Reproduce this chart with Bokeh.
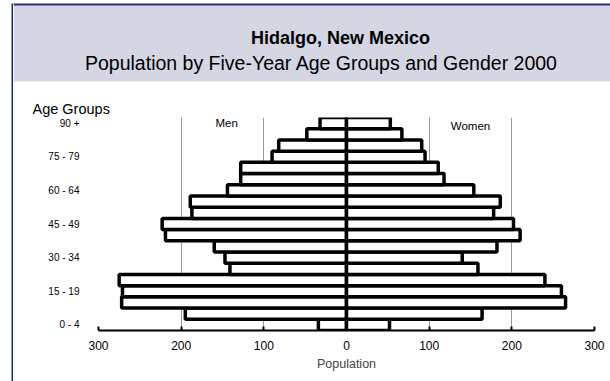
from bokeh.plotting import figure
from bokeh.layouts import row, column
from bokeh.models import Range1d, FixedTicker, Label, ColumnDataSource
from bokeh.core.properties import value
from bokeh.embed import file_html
from bokeh.resources import INLINE

# ---- data ----
age_groups = ["0 - 4", "5 - 9", "10 - 14", "15 - 19", "20 - 24", "25 - 29", "30 - 34",
              "35 - 39", "40 - 44", "45 - 49", "50 - 54", "55 - 59", "60 - 64", "65 - 69",
              "70 - 74", "75 - 79", "80 - 84", "85 - 89", "90 +"]
men = [34, 195, 272, 271, 275, 141, 147, 160, 219, 223, 187, 189, 144, 128, 128, 90, 82, 48, 32]
women = [52, 164, 265, 260, 240, 159, 140, 182, 210, 202, 178, 186, 154, 118, 111, 95, 91, 67, 53]
shown_age_labels = ["0 - 4", "15 - 19", "30 - 34", "45 - 49", "60 - 64", "75 - 79", "90 +"]
x_ticks = [-300, -200, -100, 0, 100, 200, 300]
x_tick_labels = ["300", "200", "100", "0", "100", "200", "300"]

title_text = "Hidalgo, New Mexico"
subtitle_text = "Population by Five-Year Age Groups and Gender 2000"
y_title = "Age Groups"

FONT = "Liberation Sans"
NAVY = "#1F2A7A"
PANEL = "#D4D6E4"

W_TOTAL, H_TOTAL = 610, 381
STRIP_W = 13
HEAD_H = 117
MAIN_W = W_TOTAL - STRIP_W
CHART_H = H_TOTAL - HEAD_H


def no_align(f):
    try:
        f.frame_align = False
    except Exception:
        pass


def blank(w, h):
    f = figure(width=w, height=h, output_backend="svg", toolbar_location=None,
               x_range=Range1d(0, w), y_range=Range1d(h, 0),
               x_axis_location=None, y_axis_location=None,
               min_border=0, min_border_left=0, min_border_right=0,
               min_border_top=0, min_border_bottom=0)
    f.grid.visible = False
    f.outline_line_color = None
    f.background_fill_color = "white"
    f.border_fill_color = "white"
    no_align(f)
    return f


# ---- left strip with the navy frame line ----
strip = blank(STRIP_W, H_TOTAL)
strip.quad(left=[11], right=[13], top=[3], bottom=[H_TOTAL], fill_color=NAVY, line_color=None)

# ---- header ----
head = blank(MAIN_W, HEAD_H)
head.quad(left=[0], right=[MAIN_W], top=[5], bottom=[81], fill_color=PANEL, line_color=None)
head.quad(left=[0], right=[MAIN_W], top=[3], bottom=[5], fill_color=NAVY, line_color=None)
head.text(x=[327], y=[37], text=[title_text], text_align="center", text_baseline="alphabetic",
          text_font=value(FONT), text_font_size="18px", text_font_style="bold", text_color="black")
head.text(x=[308], y=[62], text=[subtitle_text], text_align="center", text_baseline="alphabetic",
          text_font=value(FONT), text_font_size="19.5px", text_color="black")
head.text(x=[19], y=[108], text=[y_title], text_align="left", text_baseline="alphabetic",
          text_font=value(FONT), text_font_size="14.5px", text_color="black")

# ---- chart ----
idx = list(range(len(age_groups)))
src = ColumnDataSource(dict(
    y=idx,
    men_left=[-v for v in men],
    women_right=women,
))

p = figure(width=MAIN_W, height=CHART_H, output_backend="svg", toolbar_location=None,
           x_range=Range1d(-300, 300), y_range=Range1d(-0.5, len(age_groups) - 0.5),
           min_border_left=85, min_border_right=16, min_border_top=0, min_border_bottom=51)
p.background_fill_color = "white"
p.border_fill_color = "white"
p.outline_line_color = None
no_align(p)

p.hbar(y="y", left="men_left", right=0, height=1, source=src,
       fill_color="white", line_color="black", line_width=3.5)
p.hbar(y="y", left=0, right="women_right", height=1, source=src,
       fill_color="white", line_color="black", line_width=3.5)

xa = p.xaxis[0]
xa.ticker = FixedTicker(ticks=x_ticks)
xa.major_label_overrides = {t: l for t, l in zip(x_ticks, x_tick_labels)}
xa.minor_tick_line_color = None
xa.major_tick_in = 4
xa.major_tick_out = 0
xa.major_tick_line_width = 2
xa.axis_line_width = 2
xa.axis_line_color = "black"
xa.major_label_standoff = 10
xa.major_label_text_font = FONT
xa.major_label_text_font_size = "12px"
xa.major_label_text_color = "black"
xa.axis_label = "Population"
xa.axis_label_text_font = FONT
xa.axis_label_text_font_size = "12.5px"
xa.axis_label_text_font_style = "normal"
xa.axis_label_standoff = 4

ya = p.yaxis[0]
ya.ticker = FixedTicker(ticks=[age_groups.index(l) for l in shown_age_labels])
ya.major_label_overrides = {age_groups.index(l): l for l in shown_age_labels}
ya.axis_line_color = None
ya.major_tick_line_color = None
ya.minor_tick_line_color = None
ya.major_tick_in = 0
ya.major_tick_out = 0
ya.major_label_standoff = 19
ya.major_label_text_font = FONT
ya.major_label_text_font_size = "10px"
ya.major_label_text_color = "black"

p.ygrid.grid_line_color = None
p.xgrid.ticker = FixedTicker(ticks=x_ticks)
p.xgrid.grid_line_color = "#999999"
p.xgrid.grid_line_width = 1

p.add_layout(Label(x=-145, y=18, text="Men", text_align="center", text_baseline="middle",
                   text_font=FONT, text_font_size="11.5px", text_color="black"))
p.add_layout(Label(x=150, y=17.75, text="Women", text_align="center", text_baseline="middle",
                   text_font=FONT, text_font_size="11.5px", text_color="black"))

layout = row(strip, column(column(head), column(p)))
open("out.html", "w").write(file_html(layout, INLINE))
